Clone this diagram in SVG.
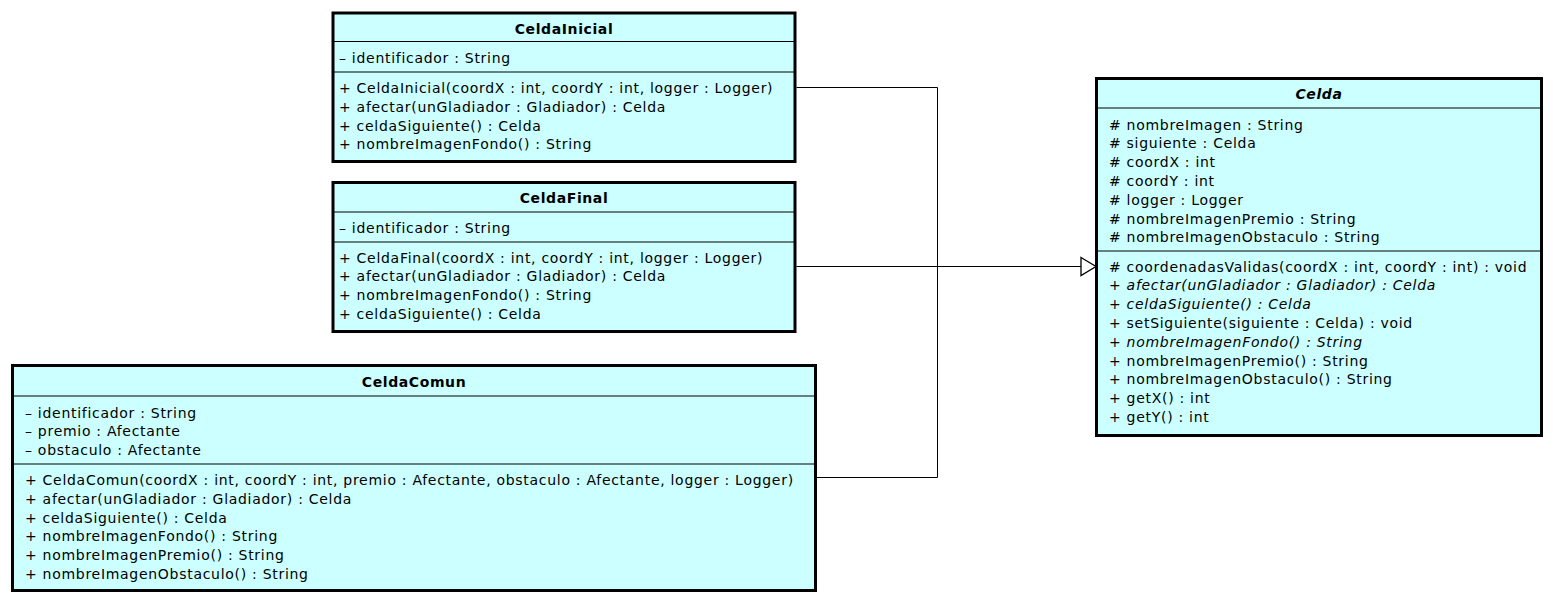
<svg xmlns="http://www.w3.org/2000/svg" width="1556" height="604" viewBox="0 0 1556 604">
<style>
.box{fill:#CCFFFF;stroke:#000;stroke-width:3}
.sep{stroke:#000;stroke-width:1.2}
.t{font-family:"DejaVu Sans",sans-serif;font-size:14px;letter-spacing:0.71px;fill:#000}
.ttl{font-family:"DejaVu Sans",sans-serif;font-size:14px;font-weight:bold;letter-spacing:0.6px;fill:#000;text-anchor:middle}
.it{font-style:italic}
.edge{fill:none;stroke:#000;stroke-width:1}
.head{fill:#fff;stroke:#000;stroke-width:1.3}
</style>
<rect x="0" y="0" width="1556" height="604" fill="#fff"/>
<g id="connectors">
<path class="edge" d="M796.5 87.5H937.5V477.5H817"/>
<path class="edge" d="M796.5 266.5H1081"/>
<polygon class="head" points="1081,257.5 1096,266.5 1081,275.5"/>
</g>
<g id="CeldaInicial">
<rect class="box" x="333" y="13" width="462" height="148.5"/>
<line class="sep" x1="333" y1="41.5" x2="795" y2="41.5"/>
<line class="sep" x1="333" y1="72" x2="795" y2="72"/>
<text class="ttl" x="564" y="33.5">CeldaInicial</text>
<text class="t" x="339" y="63">– identificador : String</text>
<text class="t" x="339" y="93">+ CeldaInicial(coordX : int, coordY : int, logger : Logger)</text>
<text class="t" x="339" y="111.8">+ afectar(unGladiador : Gladiador) : Celda</text>
<text class="t" x="339" y="130.6">+ celdaSiguiente() : Celda</text>
<text class="t" x="339" y="149.4">+ nombreImagenFondo() : String</text>
</g>
<g id="CeldaFinal">
<rect class="box" x="333" y="182.5" width="462" height="149"/>
<line class="sep" x1="333" y1="212" x2="795" y2="212"/>
<line class="sep" x1="333" y1="242" x2="795" y2="242"/>
<text class="ttl" x="564" y="203">CeldaFinal</text>
<text class="t" x="339" y="233">– identificador : String</text>
<text class="t" x="339" y="262.5">+ CeldaFinal(coordX : int, coordY : int, logger : Logger)</text>
<text class="t" x="339" y="281.3">+ afectar(unGladiador : Gladiador) : Celda</text>
<text class="t" x="339" y="300.1">+ nombreImagenFondo() : String</text>
<text class="t" x="339" y="318.9">+ celdaSiguiente() : Celda</text>
</g>
<g id="CeldaComun">
<rect class="box" x="12.5" y="365.5" width="803" height="225"/>
<line class="sep" x1="12.5" y1="396" x2="815.5" y2="396"/>
<line class="sep" x1="12.5" y1="464" x2="815.5" y2="464"/>
<text class="ttl" x="414" y="386.5">CeldaComun</text>
<text class="t" x="25" y="417.5">– identificador : String</text>
<text class="t" x="25" y="436.3">– premio : Afectante</text>
<text class="t" x="25" y="455.1">– obstaculo : Afectante</text>
<text class="t" x="25" y="485">+ CeldaComun(coordX : int, coordY : int, premio : Afectante, obstaculo : Afectante, logger : Logger)</text>
<text class="t" x="25" y="503.8">+ afectar(unGladiador : Gladiador) : Celda</text>
<text class="t" x="25" y="522.6">+ celdaSiguiente() : Celda</text>
<text class="t" x="25" y="541.4">+ nombreImagenFondo() : String</text>
<text class="t" x="25" y="560.2">+ nombreImagenPremio() : String</text>
<text class="t" x="25" y="579">+ nombreImagenObstaculo() : String</text>
</g>
<g id="Celda">
<rect class="box" x="1096.5" y="78.5" width="445" height="357"/>
<line class="sep" x1="1096.5" y1="108" x2="1541.5" y2="108"/>
<line class="sep" x1="1096.5" y1="251" x2="1541.5" y2="251"/>
<text class="ttl it" x="1319" y="99">Celda</text>
<text class="t" x="1109" y="129.5"># nombreImagen : String</text>
<text class="t" x="1109" y="148.3"># siguiente : Celda</text>
<text class="t" x="1109" y="167.1"># coordX : int</text>
<text class="t" x="1109" y="185.9"># coordY : int</text>
<text class="t" x="1109" y="204.7"># logger : Logger</text>
<text class="t" x="1109" y="223.5"># nombreImagenPremio : String</text>
<text class="t" x="1109" y="242.3"># nombreImagenObstaculo : String</text>
<text class="t" x="1109" y="271.5"># coordenadasValidas(coordX : int, coordY : int) : void</text>
<text class="t it" x="1109" y="290.3">+ afectar(unGladiador : Gladiador) : Celda</text>
<text class="t it" x="1109" y="309.1">+ celdaSiguiente() : Celda</text>
<text class="t" x="1109" y="327.9">+ setSiguiente(siguiente : Celda) : void</text>
<text class="t it" x="1109" y="346.7">+ nombreImagenFondo() : String</text>
<text class="t" x="1109" y="365.5">+ nombreImagenPremio() : String</text>
<text class="t" x="1109" y="384.3">+ nombreImagenObstaculo() : String</text>
<text class="t" x="1109" y="403.1">+ getX() : int</text>
<text class="t" x="1109" y="421.9">+ getY() : int</text>
</g>
</svg>
